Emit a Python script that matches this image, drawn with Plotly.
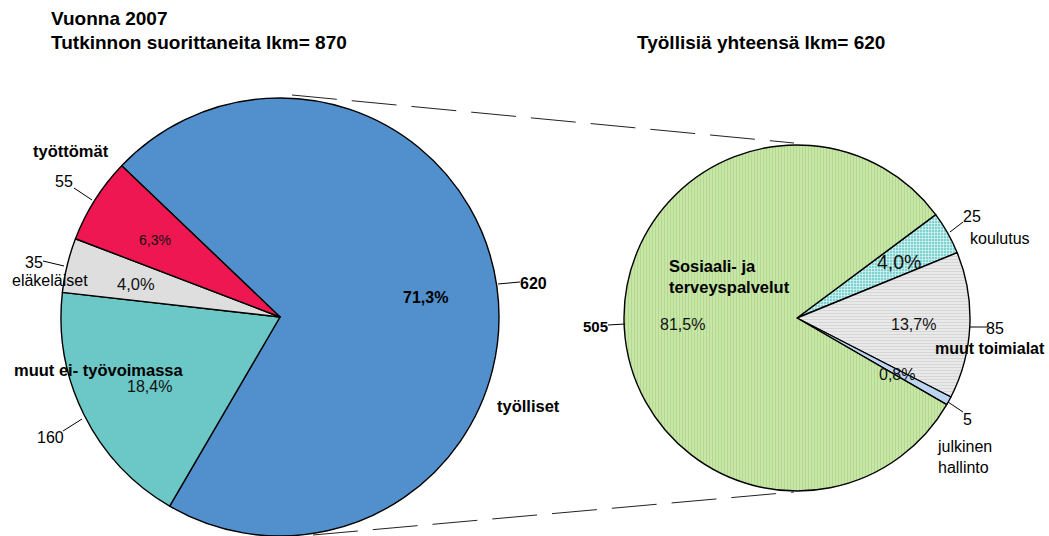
import plotly.graph_objects as go

W, H = 1049, 536

# Left pie data
left_labels = ["työlliset", "muut ei- työvoimassa", "eläkeläiset", "työttömät"]
left_values = [620, 160, 35, 55]
left_colors = ["#5190CD", "#6BC8C7", "#DEDEDE", "#EE1752"]

# Right pie data
right_labels = ["koulutus", "muut toimialat", "julkinen hallinto", "Sosiaali- ja terveyspalvelut"]
right_values = [25, 85, 5, 505]
right_bg = ["#7CD3CF", "#E9E9E9", "#BCD6F2", "#C8E6A8"]
right_fg = ["#EEFAFA", "#D6D6D6", "#BCD6F2", "#B2D98E"]
right_shape = ["+", "-", "", "|"]

FONT = "Liberation Sans, Arial, sans-serif"


def px(x, y):
    return x / W, 1 - y / H


fig = go.Figure()

fig.add_trace(go.Pie(
    labels=left_labels, values=left_values, sort=False, direction="clockwise",
    rotation=-46.3, textinfo="none", hoverinfo="label+value+percent",
    marker=dict(colors=left_colors, line=dict(color="#000000", width=1.4)),
    domain=dict(x=[(280 - 219) / W, (280 + 219) / W], y=[0, 438 / H]),
    showlegend=False,
))

fig.add_trace(go.Pie(
    labels=right_labels, values=right_values, sort=False, direction="clockwise",
    rotation=53.3, textinfo="none", hoverinfo="label+value+percent",
    marker=dict(colors=right_bg, line=dict(color="#000000", width=1.4),
                pattern=dict(shape=right_shape, fgcolor=right_fg, bgcolor=right_bg,
                             size=3, solidity=0.35)),
    domain=dict(x=[(797 - 173) / W, (797 + 173) / W],
                y=[1 - (318 + 173) / H, 1 - (318 - 173) / H]),
    showlegend=False,
))

# Dashed connector lines
for (x0, y0, x1, y1) in [(292, 95, 794, 143), (313, 535, 794, 492)]:
    a0 = px(x0, y0)
    a1 = px(x1, y1)
    fig.add_shape(type="line", xref="paper", yref="paper", x0=a0[0], y0=a0[1],
                  x1=a1[0], y1=a1[1], line=dict(color="#222222", width=1, dash="45px,15px"))

# Leader lines
for (x0, y0, x1, y1) in [(74, 188, 92, 200), (43, 261, 64, 266), (63, 431, 82, 419),
                         (498, 284, 520, 282), (608, 325, 625, 324), (950, 232, 963, 222),
                         (970, 327, 988, 327), (948, 402, 963, 412)]:
    a0 = px(x0, y0)
    a1 = px(x1, y1)
    fig.add_shape(type="line", xref="paper", yref="paper", x0=a0[0], y0=a0[1],
                  x1=a1[0], y1=a1[1], line=dict(color="#000000", width=1))


def ann(text, x, y, size=16, bold=False, anchor="center", color="#000000", align="center"):
    ax, ay = px(x, y)
    t = f"<b>{text}</b>" if bold else text
    fig.add_annotation(text=t, x=ax, y=ay, xref="paper", yref="paper", showarrow=False,
                       xanchor=anchor, yanchor="middle", align=align,
                       font=dict(family=FONT, size=size, color=color))


# Titles
ann("Vuonna 2007", 49, 19, 19, True, "left")
ann("Tutkinnon suorittaneita lkm= 870", 49, 43, 19, True, "left")
ann("Työllisiä yhteensä lkm= 620", 761, 43, 19, True)

# Left pie labels
ann(left_labels[3], 71, 151, 16.5, True)
ann(str(left_values[3]), 64, 181, 16)
ann("6,3%", 155, 240, 14, color="#111111")
ann(str(left_values[2]), 34, 262, 16)
ann(left_labels[2], 50, 280, 16)
ann("4,0%", 136, 284, 16.5, color="#111111")
ann(left_labels[1], 99, 370, 16.5, True)
ann("18,4%", 149, 386, 16, color="#111111")
ann(str(left_values[1]), 50, 437, 16)
ann("71,3%", 425, 297, 16, True)
ann(str(left_values[0]), 533, 283, 16, True)
ann(left_labels[0], 528, 406, 16.5, True)

# Right pie labels
ann(str(right_values[3]), 595, 326, 15, True)
ann("Sosiaali- ja<br>terveyspalvelut", 667, 276, 16.5, True, "left", align="left")
ann("81,5%", 682, 324, 16, color="#111111")
ann("4,0%", 899, 262, 19.5, color="#111111")
ann(str(right_values[0]), 972, 216, 16)
ann(right_labels[0], 1000, 239, 16)
ann("13,7%", 913, 324, 16, color="#111111")
ann(str(right_values[1]), 995, 328, 16)
ann(right_labels[1], 990, 348, 16, True)
ann("0,8%", 897, 374, 16, color="#111111")
ann(str(right_values[2]), 967, 419, 16)
ann("julkinen<br>hallinto", 935, 457, 16, False, "left", align="left")

fig.update_layout(width=W, height=H, margin=dict(l=0, r=0, t=0, b=0),
                  paper_bgcolor="#FFFFFF", plot_bgcolor="#FFFFFF",
                  font=dict(family=FONT, color="#000000"))

fig.write_html("out.html", config={"displayModeBar": False},
               post_script="document.body.style.margin='0';"
                           "document.documentElement.style.overflow='hidden';")
